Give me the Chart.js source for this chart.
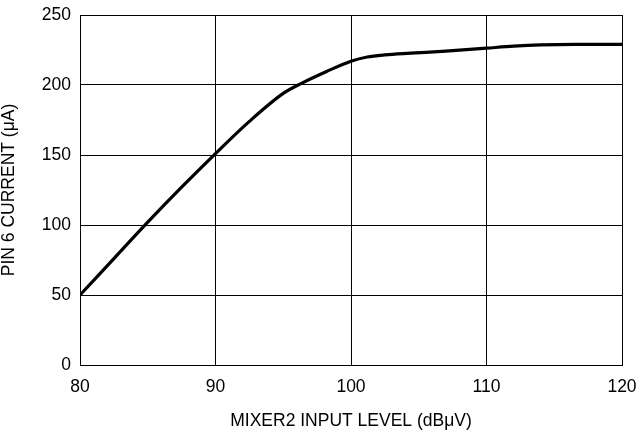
<!DOCTYPE html>
<html>
<head>
<meta charset="utf-8">
<script src="https://cdn.jsdelivr.net/npm/chart.js@4"></script>
<style>
  html, body { margin: 0; padding: 0; background: #fff; }
  #wrap { width: 641px; height: 437px; }
</style>
</head>
<body>
<div id="wrap"><canvas id="pinChart"></canvas></div>
<script>
// values
const inputLevel = [80, 82.5, 85, 87.5, 90, 92.5, 95, 96.3, 98.2, 100, 101.2, 102.5, 104.4, 107, 110, 112, 114, 116.5, 120];
const pinCurrent = [50, 76, 102, 127, 151, 174, 194, 201, 209.7, 217, 220, 221.5, 222.7, 224.2, 226.3, 227.7, 228.6, 229, 229];

const xTicks = [80, 90, 100, 110, 120];
const yTicks = [0, 50, 100, 150, 200, 250];

const font = { family: '"Liberation Sans", Arial, sans-serif', size: 17.5 };

const points = inputLevel.map((x, i) => ({ x, y: pinCurrent[i] }));

const ctx = document.getElementById('pinChart').getContext('2d');
new Chart(ctx, {
  type: 'line',
  data: {
    datasets: [{
      data: points,
      borderColor: '#000',
      borderWidth: 3.2,
      pointRadius: 0,
      cubicInterpolationMode: 'monotone',
      fill: false
    }]
  },
  options: {
    responsive: true,
    maintainAspectRatio: false,
    animation: false,
    layout: { padding: { top: 15, right: 19, left: 0, bottom: 0 } },
    plugins: { legend: { display: false }, tooltip: { enabled: false } },
    scales: {
      x: {
        type: 'linear',
        min: 80,
        max: 120,
        afterBuildTicks: s => { s.ticks = xTicks.map(v => ({ value: v })); },
        afterFit: s => { s.height = 72; s.paddingLeft = 0; s.paddingRight = 0; },
        grid: { color: '#000', lineWidth: 1, drawTicks: false },
        border: { color: '#000', width: 1 },
        ticks: { color: '#000', font, padding: 12, maxRotation: 0 },
        title: {
          display: true,
          text: 'MIXER2 INPUT LEVEL (dBμV)',
          color: '#000',
          font,
          padding: { top: 0, bottom: 5.5 }
        }
      },
      y: {
        min: 0,
        max: 250,
        afterBuildTicks: s => { s.ticks = yTicks.map(v => ({ value: v })); },
        afterFit: s => { s.width = 80; s.paddingTop = 0; s.paddingBottom = 0; },
        grid: { color: '#000', lineWidth: 1, drawTicks: false },
        border: { color: '#000', width: 1 },
        ticks: { color: '#000', font, padding: 9 },
        title: {
          display: true,
          text: 'PIN 6 CURRENT (μA)',
          color: '#000',
          font: { ...font, lineHeight: 1.05 },
          padding: { top: 0, bottom: 0 }
        }
      }
    }
  }
});
</script>
</body>
</html>
